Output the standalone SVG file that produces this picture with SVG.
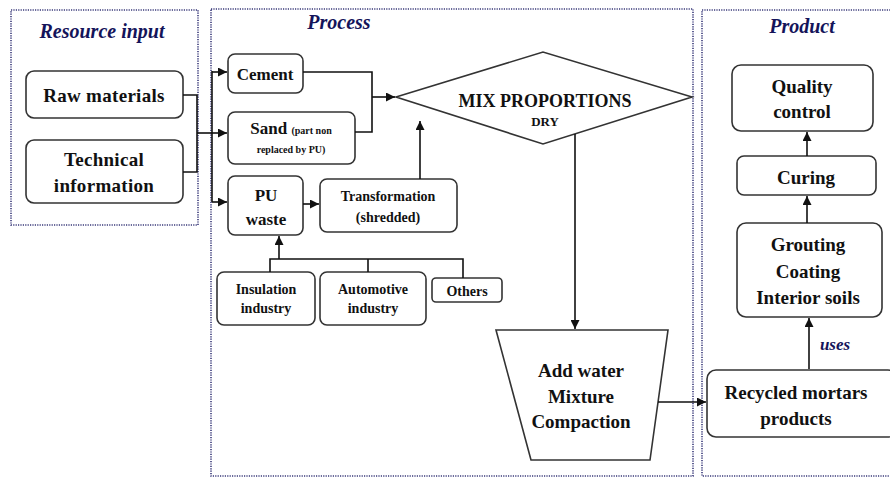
<svg xmlns="http://www.w3.org/2000/svg" width="890" height="478" viewBox="0 0 890 478">
<defs>
<marker id="ah" viewBox="0 0 10 10" refX="10" refY="5" markerWidth="9" markerHeight="9" markerUnits="userSpaceOnUse" orient="auto">
<path d="M0,0 L10,5 L0,10 z" fill="#111"/>
</marker>
<style>
.cont{fill:none;stroke:#3a3a7a;stroke-width:1.6;stroke-dasharray:1.2 1.2}
.title{font-family:"Liberation Serif","Times New Roman",serif;font-style:italic;font-weight:bold;fill:#14145a}
.box{fill:#fff;stroke:#333;stroke-width:1.6}
.t{font-family:"Liberation Serif","Times New Roman",serif;font-weight:bold;fill:#111;text-anchor:middle}
.c{fill:none;stroke:#111;stroke-width:1.6}
</style>
</defs>
<rect width="890" height="478" fill="#fff"/>

<g id="containers">
<rect class="cont" x="11" y="10" width="187" height="215"/>
<rect class="cont" x="211" y="9" width="482" height="467"/>
<rect class="cont" x="702" y="10" width="200" height="466"/>
<text class="title" x="102" y="38" font-size="20" text-anchor="middle">Resource input</text>
<text class="title" x="339" y="29" font-size="20" text-anchor="middle">Process</text>
<text class="title" x="802" y="33" font-size="20" text-anchor="middle">Product</text>
</g>

<g id="raw">
<rect class="box" x="26" y="71" width="157" height="47" rx="8"/>
<text class="t" x="104" y="102" font-size="19" letter-spacing="0.3">Raw materials</text>
</g>
<g id="tech">
<rect class="box" x="26" y="140" width="157" height="63" rx="8"/>
<text class="t" x="104" y="166" font-size="19" letter-spacing="0.3">Technical</text>
<text class="t" x="104" y="192" font-size="19" letter-spacing="0.3">information</text>
</g>

<g id="cement">
<rect class="box" x="228" y="54" width="75" height="39" rx="7"/>
<text class="t" x="265" y="80" font-size="17">Cement</text>
</g>
<g id="sand">
<rect class="box" x="228" y="112" width="127" height="52" rx="7"/>
<text class="t" x="291" y="134"><tspan font-size="17">Sand </tspan><tspan font-size="10">(part non</tspan></text>
<text class="t" x="291" y="153" font-size="10">replaced by PU)</text>
</g>
<g id="pu">
<rect class="box" x="228" y="176" width="75" height="59" rx="7"/>
<text class="t" x="266" y="201" font-size="17">PU</text>
<text class="t" x="266" y="225" font-size="17">waste</text>
</g>
<g id="transformation">
<rect class="box" x="320" y="179" width="137" height="53" rx="7"/>
<text class="t" x="388" y="201" font-size="14">Transformation</text>
<text class="t" x="388" y="222" font-size="14">(shredded)</text>
</g>
<g id="insulation">
<rect class="box" x="217" y="272" width="98" height="53" rx="7"/>
<text class="t" x="266" y="294" font-size="14">Insulation</text>
<text class="t" x="266" y="313" font-size="14">industry</text>
</g>
<g id="automotive">
<rect class="box" x="320" y="272" width="106" height="53" rx="7"/>
<text class="t" x="373" y="294" font-size="14">Automotive</text>
<text class="t" x="373" y="313" font-size="14">industry</text>
</g>
<g id="others">
<rect class="box" x="432" y="278" width="70" height="24" rx="4"/>
<text class="t" x="467" y="296" font-size="14">Others</text>
</g>
<g id="mix">
<polygon class="box" points="396,97 543,52 692,97 543,144"/>
<text class="t" x="545" y="107" font-size="18">MIX PROPORTIONS</text>
<text class="t" x="545" y="126" font-size="13">DRY</text>
</g>
<g id="water">
<polygon class="box" points="496,330 668,330 650,460 531,460"/>
<text class="t" x="581" y="377" font-size="19">Add water</text>
<text class="t" x="581" y="403" font-size="19">Mixture</text>
<text class="t" x="581" y="428" font-size="19">Compaction</text>
</g>
<g id="recycled">
<rect class="box" x="707" y="370" width="190" height="67" rx="9"/>
<text class="t" x="796" y="399" font-size="19">Recycled mortars</text>
<text class="t" x="796" y="425" font-size="19">products</text>
</g>
<g id="grouting">
<rect class="box" x="737" y="223" width="145" height="94" rx="9"/>
<text class="t" x="808" y="251" font-size="19">Grouting</text>
<text class="t" x="808" y="278" font-size="19">Coating</text>
<text class="t" x="808" y="304" font-size="19">Interior soils</text>
</g>
<g id="curing">
<rect class="box" x="737" y="156" width="139" height="39" rx="7"/>
<text class="t" x="806" y="184" font-size="19">Curing</text>
</g>
<g id="quality">
<rect class="box" x="732" y="65" width="141" height="66" rx="9"/>
<text class="t" x="802" y="93" font-size="19">Quality</text>
<text class="t" x="802" y="118" font-size="19">control</text>
</g>

<g id="connectors">
<path class="c" d="M183,95 H197 V172 H183"/>
<path class="c" d="M197,133 H212"/>
<path class="c" d="M212,71 V202"/>
<path class="c" d="M212,72 H227" marker-end="url(#ah)"/>
<path class="c" d="M212,133 H227" marker-end="url(#ah)"/>
<path class="c" d="M212,202 H227" marker-end="url(#ah)"/>
<path class="c" d="M303,72 H372 V132 H355"/>
<path class="c" d="M372,97 H395" marker-end="url(#ah)"/>
<path class="c" d="M303,204 H319" marker-end="url(#ah)"/>
<path class="c" d="M420,179 V121" marker-end="url(#ah)"/>
<path class="c" d="M270,272 V259 H463 V278"/>
<path class="c" d="M368,259 V272"/>
<path class="c" d="M279,259 V236" marker-end="url(#ah)"/>
<path class="c" d="M575,134 V329" marker-end="url(#ah)"/>
<path class="c" d="M658,402 H706" marker-end="url(#ah)"/>
<path class="c" d="M809,369 V318" marker-end="url(#ah)"/>
<path class="c" d="M807,223 V196" marker-end="url(#ah)"/>
<path class="c" d="M807,156 V132" marker-end="url(#ah)"/>
<text class="title" x="835" y="350" font-size="17" text-anchor="middle">uses</text>
</g>
</svg>
